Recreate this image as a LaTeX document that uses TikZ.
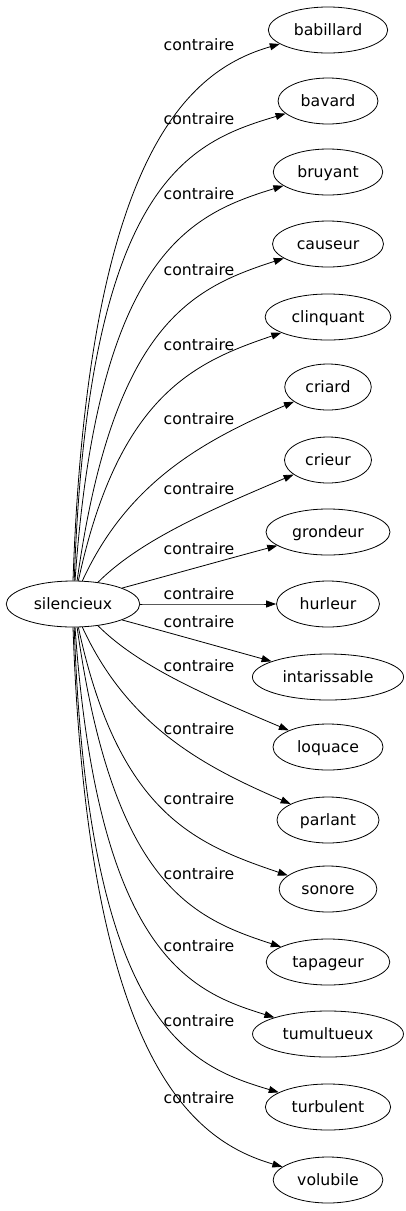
\documentclass[tikz,border=0pt]{standalone}
\usepackage{fontspec}
\setmainfont{DejaVu Sans}
\usetikzlibrary{arrows.meta, shapes.geometric}

\begin{document}
\begin{tikzpicture}[x=1pt, y=-1pt,
  every node/.style={font=\fontsize{15.7}{19}\selectfont},
  mot/.style={draw, ellipse, line width=0.8pt, inner xsep=8pt, minimum height=46pt,
    text height=12.5pt, text depth=2.5pt},
  rel/.style={inner sep=0pt, text height=12.5pt, text depth=2.5pt},
  fleche/.style={line width=0.8pt, -{Triangle[length=10pt, width=7pt]}}]
  \useasboundingbox (0,0) rectangle (406,1211);

  % mot de depart
  \node[mot] (silencieux) at (73,604) {silencieux};

  % contraires et fleches
  \foreach \n/\yt/\a/\cx/\cy/\px/\py in {
      babillard/30/90/15/-430/190/70,
      bavard/101/87/14/-400/190/142,
      bruyant/172/85/23/-329/192/214,
      causeur/244/80/36/-257/192/288,
      clinquant/317/77/40/-186/195/362,
      criard/387/68/46/-100/205/440,
      crieur/460/41/42/-42/210/510,
      grondeur/532/18/48/-13/220/561,
      hurleur/604/0/40/0/230/604,
      intarissable/677/-18/48/13/220/647,
      loquace/747/-41/42/42/210/697,
      parlant/820/-68/46/100/205/767,
      sonore/889/-77/40/186/195/844,
      tapageur/962/-80/36/257/192/918,
      tumultueux/1034/-85/23/329/192/992,
      turbulent/1107/-87/14/400/190/1066,
      volubile/1180/-90/15/430/190/1140}{
    \node[mot] (\n) at (328,\yt) {\n};
    \draw[fleche] (silencieux.\a) .. controls +(\cx,\cy) and (\px,\py) .. (\n);
  }

  % etiquettes des aretes
  \foreach \yl [count=\i] in {45,119,194,270,345,419,489,549,594,622,666,729,799,874,946,1021,1098}
    \node[rel] (rel\i) at (199,\yl) {contraire};
\end{tikzpicture}
\end{document}
